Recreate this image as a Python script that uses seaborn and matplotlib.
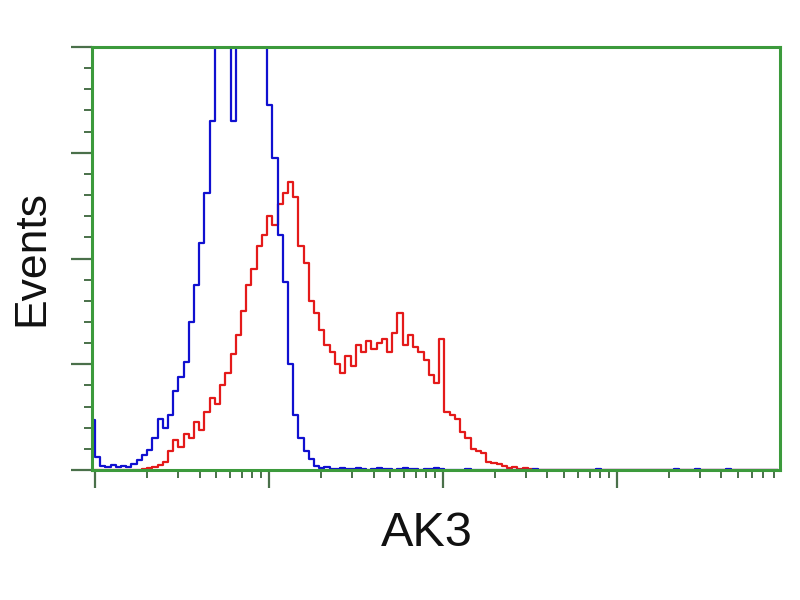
import numpy as np
import matplotlib
matplotlib.use("Agg")
from matplotlib import pyplot as plt
from matplotlib import ticker
import seaborn as sns
import pandas as pd

# histogram bins, in log10 units (0.03 decade each)
bin_start = -0.03
bin_width = 0.03

# counts per bin, isotype control (blue)
blue_counts = [
    47, 12, 4, 3, 5, 3, 4, 3, 6, 9,
    14, 19, 30, 48, 40, 52, 75, 88, 102, 140,
    175, 215, 262, 330, 420, 470, 450, 330, 480, 520,
    500, 540, 490, 430, 345, 295, 222, 178, 100, 52,
    30, 18, 10, 4, 2, 3, 1, 1, 2, 1,
    1, 2, 1, 0, 1, 2, 1, 1, 0, 1,
    2, 1, 1, 0, 1, 1, 2, 1, 0, 0,
    0, 0, 1, 0, 0, 0, 0, 0, 0, 0,
    0, 0, 0, 0, 0, 1, 0, 0, 0, 0,
    0, 0, 0, 0, 0, 0, 0, 1, 0, 0,
    0, 0, 0, 0, 0, 0, 0, 0, 0, 0,
    0, 0, 1, 0, 0, 0, 1, 0, 0, 0,
    0, 0, 1, 0, 0, 0, 0, 0, 0, 0,
    0, 0,
]

# counts per bin, AK3 stained (red)
red_counts = [
    0, 0, 0, 0, 0, 0, 0, 0, 0, 0,
    1, 2, 3, 5, 8, 18, 28, 22, 34, 30,
    45, 38, 55, 68, 62, 80, 92, 110, 128, 150,
    175, 190, 212, 222, 240, 232, 252, 262, 272, 258,
    212, 196, 160, 148, 132, 118, 112, 100, 92, 108,
    98, 118, 112, 122, 114, 120, 124, 112, 130, 148,
    118, 128, 116, 112, 104, 90, 82, 124, 55, 52,
    48, 36, 30, 20, 18, 16, 8, 7, 6, 4,
    2, 3, 1, 2, 1, 0, 0, 0, 0, 0,
    0, 0, 0, 0, 0, 0, 0, 0, 0, 0,
    0, 0, 0, 0, 0, 0, 0, 0, 0, 0,
    0, 0, 0, 0, 0, 0, 0, 0, 0, 0,
    0, 0, 0, 0, 0, 0, 0, 0, 0, 0,
    0, 0,
]

n_bins = len(blue_counts)
edges_log = list(bin_start + bin_width * np.arange(n_bins + 1))
centers = 10 ** (np.array(edges_log[:-1]) + bin_width / 2)

df = pd.DataFrame({
    'fl': np.concatenate([centers, centers]),
    'count': blue_counts + red_counts,
    'sample': ['control'] * n_bins + ['AK3'] * n_bins,
})

sns.set_style('white')
plt.rcParams['font.family'] = ['Liberation Sans', 'DejaVu Sans']

green = '#3c9a3c'
tick_col = '#4a704a'

fig = plt.figure(figsize=(8, 6), dpi=100)
ax = fig.add_axes([92 / 800, 130 / 600, 688 / 800, 423 / 600])

sns.histplot(data=df[df['sample'] == 'AK3'], x='fl', weights='count',
             bins=edges_log, log_scale=True, element='step', fill=False,
             color='#e41a1a', linewidth=1.6, ax=ax)
sns.histplot(data=df[df['sample'] == 'control'], x='fl', weights='count',
             bins=edges_log, log_scale=True, element='step', fill=False,
             color='#1010d0', linewidth=1.6, ax=ax)

ax.set_xlim(10 ** -0.017, 10 ** 3.94)
ax.set_ylim(0, 400)

for s in ax.spines.values():
    s.set_color(green)
    s.set_linewidth(2.2)
    s.set_visible(True)

ax.xaxis.set_major_locator(ticker.LogLocator(base=10, numticks=10))
ax.xaxis.set_minor_locator(ticker.LogLocator(base=10, subs=np.arange(2, 10), numticks=100))
ax.xaxis.set_major_formatter(ticker.NullFormatter())
ax.xaxis.set_minor_formatter(ticker.NullFormatter())
ax.yaxis.set_major_locator(ticker.MultipleLocator(100))
ax.yaxis.set_minor_locator(ticker.MultipleLocator(20))
ax.yaxis.set_major_formatter(ticker.NullFormatter())

ax.tick_params(axis='x', which='major', direction='out', length=13, width=1.6,
               color=tick_col, bottom=True)
ax.tick_params(axis='x', which='minor', direction='out', length=6, width=1.4,
               color=tick_col, bottom=True)
ax.tick_params(axis='y', which='major', direction='out', length=15, width=1.6,
               color=tick_col, left=True)
ax.tick_params(axis='y', which='minor', direction='out', length=6, width=1.4,
               color=tick_col, left=True)

ax.set_xlabel('AK3', fontsize=35, labelpad=13, color='#111111')
ax.xaxis.label.set_x(0.487)
ax.set_ylabel('Events', fontsize=32, labelpad=10, color='#111111')

fig.savefig('out.png', dpi=100, facecolor='white')
